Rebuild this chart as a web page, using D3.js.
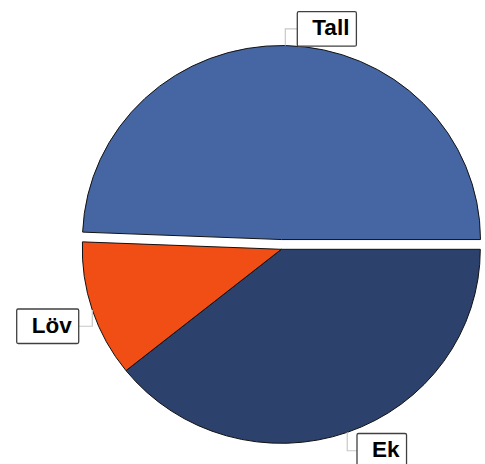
<!DOCTYPE html>
<html>
<head>
<meta charset="utf-8">
<script src="https://cdn.jsdelivr.net/npm/d3@7"></script>
<style>
  html, body { margin: 0; padding: 0; background: #fff; }
  svg { display: block; }
</style>
</head>
<body>
<svg id="chart" width="485" height="464"></svg>
<script>
const categories = ["Ek", "Löv", "Tall"];
const values = [39.25, 11.36, 49.39];
const colors = ["#2c416c", "#f04e14", "#4566a2"];
const exploded = [0, 0, 10];
// label box placement (layout)
const labelBoxes = [
  { x: 357, y: 433.5, side: "left" },
  { x: 16.7, y: 309, side: "right" },
  { x: 297.3, y: 11.7, side: "left" }
];

const svg = d3.select("#chart");
const cx = 281.3, cy = 249.3, r = 199, sy = 0.975;

const pie = d3.pie().sort(null).value(d => d)
  .startAngle(Math.PI / 2).endAngle(Math.PI / 2 + 2 * Math.PI);
const arcs = pie(values);
const arc = d3.arc().innerRadius(0).outerRadius(r);

const g = svg.append("g").attr("transform", `translate(${cx},${cy}) scale(1,${sy})`);

g.selectAll("path").data(arcs).join("path")
  .attr("d", arc)
  .attr("fill", (d, i) => colors[i])
  .attr("stroke", "#111")
  .attr("stroke-width", 1)
  .attr("vector-effect", "non-scaling-stroke")
  .attr("transform", (d, i) => {
    const a = (d.startAngle + d.endAngle) / 2;
    return `translate(${exploded[i] * Math.sin(a)},${-exploded[i] * Math.cos(a)})`;
  });

// labels
const fontSize = 22.5;
const boxH = 34.5;
const lab = svg.append("g");
arcs.forEach((d, i) => {
  const a = (d.startAngle + d.endAngle) / 2;
  const ax = cx + (r + exploded[i]) * Math.sin(a);
  const ay = cy - (r + exploded[i]) * Math.cos(a) * sy;
  const b = labelBoxes[i];
  const t = lab.append("text")
    .attr("font-family", "Liberation Sans, Arial, sans-serif")
    .attr("font-weight", "bold")
    .attr("font-size", fontSize)
    .attr("fill", "#000")
    .text(categories[i]);
  const w = t.node().getComputedTextLength();
  const bw = w + 15 + 7;
  t.attr("x", b.x + 15).attr("y", b.y + 23.5);
  const my = b.y + boxH / 2;
  const ex = b.side === "left" ? b.x : b.x + bw;
  lab.insert("path", "text")
    .attr("d", `M${ax},${ay} L${ax},${my} L${ex},${my}`)
    .attr("fill", "none")
    .attr("stroke", "#c8c8c8")
    .attr("stroke-width", 1.2);
  lab.insert("rect", "text")
    .attr("x", b.x).attr("y", b.y)
    .attr("width", bw).attr("height", boxH)
    .attr("rx", 1.5)
    .attr("fill", "#fff")
    .attr("stroke", "#404040")
    .attr("stroke-width", 1.3);
});
</script>
</body>
</html>
